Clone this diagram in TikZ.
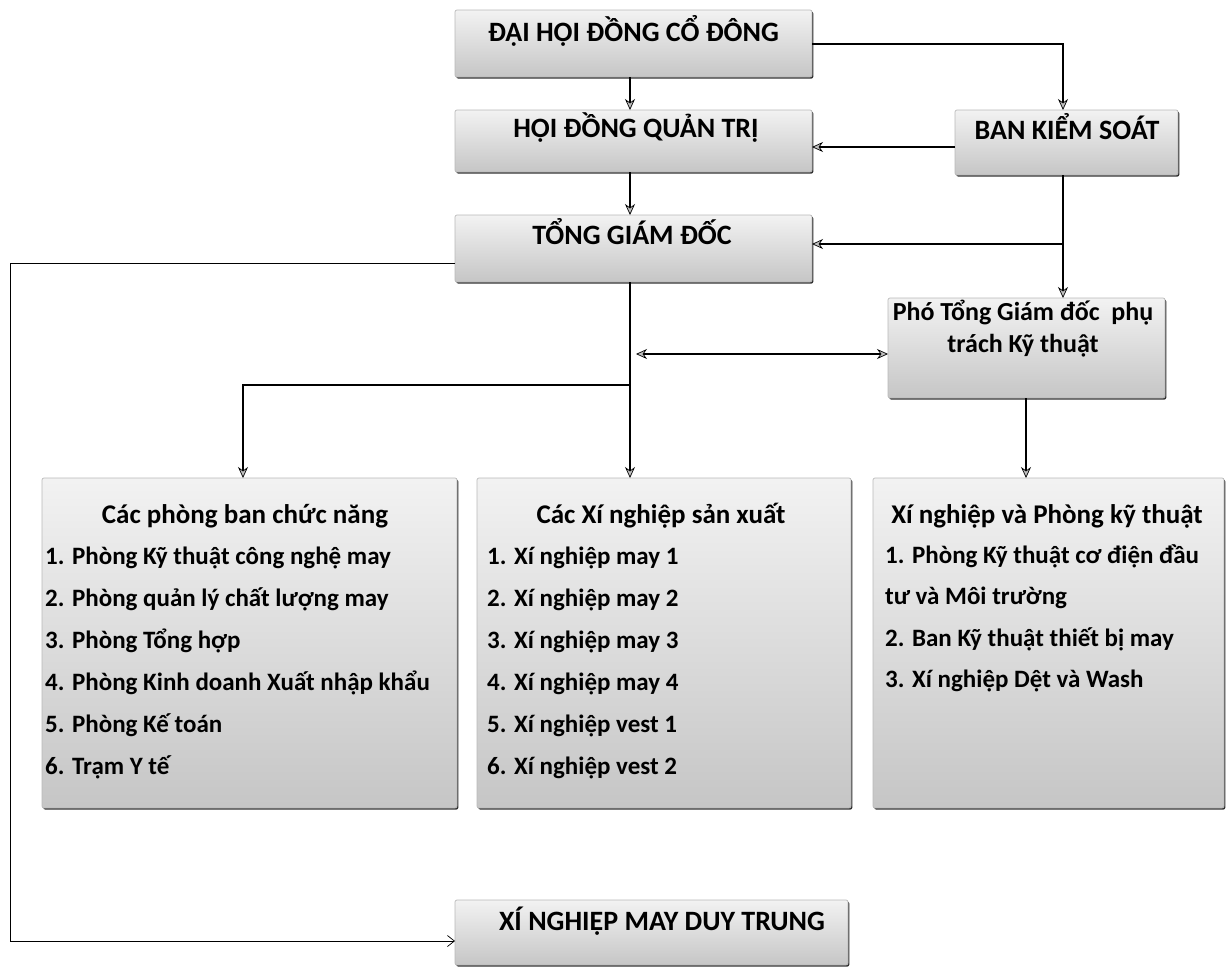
\documentclass[tikz,border=0pt]{standalone}
\usepackage{fontspec}
\setmainfont{Carlito}
\usetikzlibrary{arrows.meta,shadows}
\begin{document}
\begin{tikzpicture}[x=1pt,y=-1pt,
  box/.style={draw=gray!55, line width=0.7pt, rounded corners=2pt,
    top color=gray!10, bottom color=gray!45, inner sep=0pt, outer sep=0pt,
    general shadow={fill=black!80, shadow xshift=1.3pt, shadow yshift=-1.6pt}},
  head/.style={font=\fontsize{28}{32}\selectfont\bfseries, inner sep=0pt, anchor=base},
  item/.style={font=\fontsize{25}{30}\selectfont\bfseries, inner sep=0pt, anchor=base west},
  ttl/.style={font=\fontsize{27}{31}\selectfont\bfseries, inner sep=0pt, anchor=base},
  ptx/.style={font=\fontsize{26}{30}\selectfont\bfseries, inner sep=0pt, anchor=base},
  tip/.tip={Stealth[length=11pt,width=10pt,fill=gray!50,line width=0.7pt]},
  conn/.style={draw=black, line width=1.5pt, -tip},
  thin/.style={draw=black, line width=0.7pt, -{Straight Barb[length=7pt,width=11pt,line width=0.7pt]}}
]
\useasboundingbox[fill=white] (0,0) rectangle (1228,967);

% boxes
\node[box, minimum width=357pt, minimum height=67pt] (dh) at (633.5,43.5) {};
\node[box, minimum width=357pt, minimum height=62pt] (hq) at (633.5,141) {};
\node[box, minimum width=357pt, minimum height=67pt] (tg) at (633.5,248.5) {};
\node[box, minimum width=223pt, minimum height=65pt] (bk) at (1066.5,142.5) {};
\node[box, minimum width=277pt, minimum height=100pt] (pt) at (1026.5,348) {};
\node[box, minimum width=415pt, minimum height=330pt] (lb) at (249.5,643) {};
\node[box, minimum width=374pt, minimum height=330pt] (mb) at (664,643) {};
\node[box, minimum width=351pt, minimum height=330pt] (rb) at (1048.5,643) {};
\node[box, minimum width=393pt, minimum height=65pt] (dt) at (651.5,932.5) {};

% heading texts
\node[head] (dhT) at (633.5,41) {ĐẠI HỘI ĐỒNG CỔ ĐÔNG};
\node[head] (hqT) at (636,137) {HỘI ĐỒNG QUẢN TRỊ};
\node[head] (tgT) at (632,244) {TỔNG GIÁM ĐỐC};
\node[head] (bkT) at (1067,139) {BAN KIỂM SOÁT};
\node[head] (dtT) at (662,930) {XÍ NGHIỆP MAY DUY TRUNG};
\node[ptx] (ptA) at (1023,320) {Phó Tổng Giám đốc\ \ phụ};
\node[ptx] (ptB) at (1023,352) {trách Kỹ thuật};

% left list
\node[ttl] (lbT) at (245,523) {Các phòng ban chức năng};
\node[item] (l1) at (45,564) {1. Phòng Kỹ thuật công nghệ may};
\node[item] (l2) at (45,606) {2. Phòng quản lý chất lượng may};
\node[item] (l3) at (45,648) {3. Phòng Tổng hợp};
\node[item] (l4) at (45,690) {4. Phòng Kinh doanh Xuất nhập khẩu};
\node[item] (l5) at (45,732) {5. Phòng Kế toán};
\node[item] (l6) at (45,774) {6. Trạm Y tế};

% middle list
\node[ttl] (mbT) at (661,523) {Các Xí nghiệp sản xuất};
\node[item] (m1) at (487,564) {1. Xí nghiệp may 1};
\node[item] (m2) at (487,606) {2. Xí nghiệp may 2};
\node[item] (m3) at (487,648) {3. Xí nghiệp may 3};
\node[item] (m4) at (487,690) {4. Xí nghiệp may 4};
\node[item] (m5) at (487,732) {5. Xí nghiệp vest 1};
\node[item] (m6) at (487,774) {6. Xí nghiệp vest 2};

% right list
\node[ttl] (rbT) at (1047,523) {Xí nghiệp và Phòng kỹ thuật};
\node[item] (r1) at (885,563) {1. Phòng\ Kỹ thuật cơ điện đầu};
\node[item] (r2) at (885,604) {tư và\ Môi trường};
\node[item] (r3) at (885,646) {2. Ban Kỹ thuật thiết bị may};
\node[item] (r4) at (885,687) {3. Xí nghiệp Dệt và Wash};

% helper coordinates
\coordinate (vx) at (630,0);
\coordinate (bx) at (1063,0);
\coordinate (dbl) at (636,354);
\coordinate (br) at (630,385);
\coordinate (lx) at (243,0);
\coordinate (px) at (1026,0);
\coordinate (loop) at (10,0);

% connectors
\draw[conn] (dh.south -| vx) -- (hq.north -| vx);
\draw[conn] (hq.south -| vx) -- (tg.north -| vx);
\draw[conn, line width=1.2pt] ([yshift=-0.5pt]dh.east) -| (bk.north -| bx);
\draw[conn, line width=1.2pt] (bk.west |- 0,147) -- (hq.east |- 0,147);
\draw[conn] (bk.south -| bx) -- (pt.north -| bx);
\draw[conn, line width=1.2pt] (bx |- 0,244) -- (tg.east |- 0,244);
\draw[conn, line width=1.2pt, tip-tip] (dbl) -- (pt.west |- dbl);
\draw[conn] (tg.south -| vx) -- (mb.north -| vx);
\draw[conn] (br) -| (lb.north -| lx);
\draw[conn] (pt.south -| px) -- (rb.north -| px);
\draw[thin] (tg.west |- 0,263) -| (loop |- 0,941) -- (dt.west |- 0,941);
\end{tikzpicture}
\end{document}
